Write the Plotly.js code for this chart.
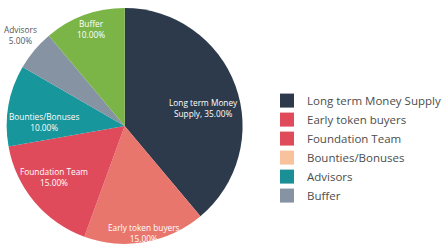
<!DOCTYPE html>
<html>
<head>
<meta charset="utf-8">
<script src="https://cdn.plot.ly/plotly-3.0.1.min.js"></script>
<style>html,body{margin:0;padding:0;background:#fff;}#chart{width:446px;height:251px;}</style>
</head>
<body>
<div id="chart"></div>
<script>
// Pie slices (clockwise from 12 o'clock)
const categories = ['Long term Money Supply', 'Early token buyers', 'Foundation Team', 'Bounties/Bonuses', 'Advisors', 'Buffer'];
const shares = [35, 15, 15, 10, 5, 10];
const sliceNames = ['Long term Money<br>Supply, ', 'Early token buyers<br>', 'Foundation Team<br>', 'Bounties/Bonuses<br>', 'Advisors<br>', 'Buffer<br>'];
const sliceColors = ['#2d3a4b', '#e8766d', '#e04b5c', '#17969b', '#8693a3', '#7bb548'];
const sliceTextColors = ['#ffffff', '#ffffff', '#ffffff', '#ffffff', '#555555', '#ffffff'];

// Legend entries as shown in the original (its colours differ from the slices)
const legendLabels = ['Long term Money Supply', 'Early token buyers', 'Foundation Team', 'Bounties/Bonuses', 'Advisors', 'Buffer'];
const legendColors = ['#2d3a4b', '#e04b5c', '#e04b5c', '#f8c29c', '#1b8f96', '#8693a3'];

const sliceText = shares.map((v, i) => sliceNames[i] + v.toFixed(2) + '%');

// label placement (pixel centres of each slice label block)
const labelX = [211, 149, 56, 46, 21, 94];
const labelY = [108, 233, 177, 122, 35, 28.5];

const W = 446, H = 251;
const FONT = 'Open Sans, sans-serif';

const traces = [{
  type: 'pie',
  labels: categories,
  values: shares,
  textinfo: 'none',
  hoverinfo: 'none',
  sort: false,
  direction: 'clockwise',
  rotation: 0,
  showlegend: false,
  marker: {colors: sliceColors, line: {width: 0}},
  domain: {x: [0.0157, 0.5628], y: [0.012, 0.984]}
}];

legendLabels.forEach((name, i) => {
  traces.push({
    type: 'scatter',
    mode: 'markers',
    x: [null], y: [null],
    name: name,
    showlegend: true,
    hoverinfo: 'none',
    marker: {symbol: 'square', size: 14, color: legendColors[i]}
  });
});

const annotations = sliceText.map((t, i) => ({
  xref: 'paper', yref: 'paper',
  x: labelX[i] / W, y: 1 - labelY[i] / H,
  xanchor: 'center', yanchor: 'middle',
  text: t, showarrow: false, align: 'center',
  font: {family: FONT, size: 8.3, color: sliceTextColors[i]}
}));

const layout = {
  width: W, height: H,
  margin: {l: 0, r: 0, t: 0, b: 0},
  paper_bgcolor: '#ffffff',
  plot_bgcolor: '#ffffff',
  showlegend: true,
  xaxis: {visible: false},
  yaxis: {visible: false},
  annotations: annotations,
  legend: {
    x: 0.62, xanchor: 'left',
    y: 0.41, yanchor: 'middle',
    font: {family: FONT, size: 11.5, color: '#4d4d4d'},
    bgcolor: 'rgba(0,0,0,0)',
    tracegroupgap: 0
  }
};

Plotly.newPlot('chart', traces, layout, {staticPlot: true, displayModeBar: false});
</script>
</body>
</html>
